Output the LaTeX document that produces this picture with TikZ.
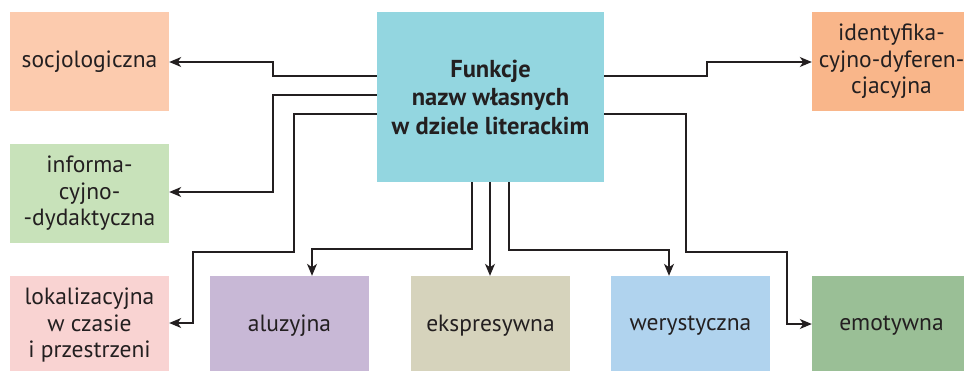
\documentclass[tikz,border=0pt]{standalone}
\usepackage{fontspec}
\setmainfont{PT Sans}
\usetikzlibrary{arrows.meta}
\definecolor{ink}{HTML}{231F20}
\definecolor{cMain}{HTML}{93D6E0}
\definecolor{cSoc}{HTML}{FCCBAE}
\definecolor{cInf}{HTML}{C8E2BA}
\definecolor{cLok}{HTML}{F9D3D2}
\definecolor{cAlu}{HTML}{C8B8D6}
\definecolor{cEks}{HTML}{D6D3BC}
\definecolor{cWer}{HTML}{B0D3EE}
\definecolor{cEmo}{HTML}{9ABF96}
\definecolor{cIde}{HTML}{F9B68A}
\tikzset{
  fbox/.style={rectangle, inner sep=0pt, minimum width=159pt, minimum height=99pt,
    align=center, text=ink, font=\fontsize{23.5}{26.5}\selectfont},
  mainbox/.style={rectangle, fill=cMain, inner sep=0pt, minimum width=227pt, minimum height=170pt,
    align=center, text=ink, font=\fontsize{24.5}{28.5}\selectfont\bfseries},
  arr/.style={draw=ink, line width=1.3pt, -{Stealth[length=12pt,width=10pt,inset=3.5pt]}},
}
\begin{document}
\begin{tikzpicture}[x=1pt,y=-1pt]
\clip (0,0) rectangle (964,370);
\useasboundingbox (0,0) rectangle (964,370);
\node[mainbox] (C) at (490.5,97) {Funkcje\\nazw własnych\\w dziele literackim};
\node[fbox, fill=cSoc] (soc) at (89.5,61.5) {socjologiczna};
\node[fbox, fill=cInf] (inf) at (89.5,193.5) {informa-\\cyjno-\\-dydaktyczna};
\node[fbox, fill=cLok] (lok) at (89.5,325.5) {lokalizacyjna\\w czasie\\i przestrzeni};
\node[fbox, fill=cAlu] (alu) at (289.5,325.5) {aluzyjna};
\node[fbox, fill=cEks] (eks) at (490.5,325.5) {ekspresywna};
\node[fbox, fill=cWer] (wer) at (690.5,325.5) {werystyczna};
\node[fbox, fill=cEmo] (emo) at (891.5,325.5) {emotywna};
\node[fbox, fill=cIde] (ide) at (891.5,61.5) {identyfika-\\cyjno-dyferen-\\cjacyjna};
% connectors
\draw[arr] (C.west |- 0,76) -| (273,62) -- (soc.east |- 0,62);
\draw[arr] (C.west |- 0,95) -| (273,192) -- (inf.east |- 0,192);
\draw[arr] (C.west |- 0,114) -| (294,252) -| (193,323) -- (lok.east |- 0,323);
\draw[arr] (C.south -| 472,0) |- (312,249) -- (alu.north -| 312,0);
\draw[arr] (C.south -| 490,0) -- (eks.north -| 490,0);
\draw[arr] (C.south -| 509,0) |- (669,250) -- (wer.north -| 669,0);
\draw[arr] (C.east |- 0,76) -| (707,62) -- (ide.west |- 0,62);
\draw[arr] (C.east |- 0,114) -| (686,252) -| (787,324) -- (emo.west |- 0,324);
\end{tikzpicture}
\end{document}
